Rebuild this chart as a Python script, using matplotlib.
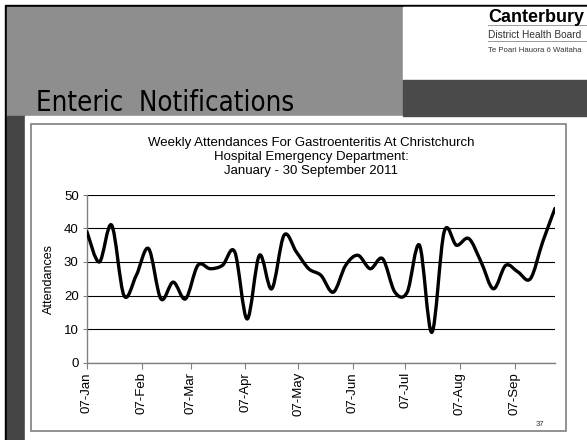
import numpy as np
import pandas as pd
import matplotlib
matplotlib.use('Agg')
import matplotlib.pyplot as plt
import matplotlib.dates as mdates
from matplotlib.path import Path
from matplotlib.patches import PathPatch, Rectangle

# данные: еженедельные обращения (с 7 января 2011, шаг 7 дней)
first_week = '2011-01-07'
attendances = [39, 30, 41, 20, 26, 34, 19, 24, 19, 29,
               28, 29, 33, 13, 32, 22, 38, 33, 28, 26,
               21, 29, 32, 28, 31, 21, 21, 35, 9, 39,
               35, 37, 30, 22, 29, 27, 25, 36, 46]
y_ticks = [0, 10, 20, 30, 40, 50]

slide_title = 'Enteric  Notifications'
chart_title = ('Weekly Attendances For Gastroenteritis At Christchurch\n'
               'Hospital Emergency Department:\n'
               'January - 30 September 2011')
y_label = 'Attendances'
page_no = '37'

weeks = pd.date_range(first_week, periods=len(attendances), freq='7D')


def smooth_path(x, y):
    """Сглаженная линия как в Excel (кривые Безье)."""
    pts = np.column_stack([x, y])
    ext = np.vstack([pts[0], pts, pts[-1]])
    verts = [pts[0]]
    codes = [Path.MOVETO]
    for i in range(len(pts) - 1):
        p0, p1, p2, p3 = ext[i], ext[i + 1], ext[i + 2], ext[i + 3]
        verts += [p1 + (p2 - p0) / 6, p2 - (p3 - p1) / 6, p2]
        codes += [Path.CURVE4] * 3
    return Path(verts, codes)


W, H = 587, 440
fig = plt.figure(figsize=(W / 100, H / 100), dpi=100)

# фон слайда в пикселях
bg = fig.add_axes([0, 0, 1, 1])
bg.set_xlim(0, W)
bg.set_ylim(H, 0)
bg.axis('off')
bg.add_patch(Rectangle((5, 5), W, H, color='black'))
bg.add_patch(Rectangle((7, 7), W, 110, color='#8e8e8e'))
bg.add_patch(Rectangle((7, 116), 18, H, color='#454545'))
bg.add_patch(Rectangle((25, 116), W, H, color='white'))
bg.add_patch(Rectangle((403, 7), W, 73, color='white'))
bg.add_patch(Rectangle((403, 80), W, 36, color='#4a4a4a'))
bg.add_patch(Rectangle((31, 124), 535, 307, facecolor='white',
                       edgecolor='#7f7f7f', lw=1.2))

bg.text(36, 111, slide_title, fontsize=19.8, family='DejaVu Sans',
        fontstretch='condensed', va='baseline', ha='left', color='black')

# логотип
bg.text(488, 22, 'Canterbury', fontsize=13, fontweight='bold',
        family='Liberation Sans', va='baseline', ha='left')
bg.plot([488, 587], [25.5, 25.5], color='#9a9a9a', lw=0.7)
bg.text(488, 38.5, 'District Health Board', fontsize=7.3,
        family='Liberation Sans', va='baseline', ha='left', color='#333333')
bg.plot([488, 587], [41.5, 41.5], color='#9a9a9a', lw=0.7)
bg.text(488, 51.5, 'Te Poari Hauora ō Waitaha', fontsize=5.6,
        family='Liberation Sans', va='baseline', ha='left', color='#333333')

bg.text(311, 157, chart_title, fontsize=9.5, family='Liberation Sans',
        ha='center', va='center', linespacing=1.25)
bg.text(540, 426, page_no, fontsize=5.5, family='Liberation Sans',
        ha='center', va='baseline', color='#333333')

# график
ax = fig.add_axes([87 / W, 1 - 362.5 / H, 468 / W, 167.5 / H])
ax.patch.set_alpha(0)
x = mdates.date2num(weeks)
ax.add_patch(PathPatch(smooth_path(x, attendances), fill=False,
                       color='black', lw=2.4, capstyle='round',
                       joinstyle='round', zorder=3))
ax.set_xlim(x[0], x[-1])
ax.set_ylim(0, 50)
ax.set_yticks(y_ticks)
ax.grid(axis='y', color='black', lw=0.8)
ax.set_axisbelow(True)
ax.xaxis.set_major_locator(mdates.MonthLocator(bymonthday=7))
ax.xaxis.set_major_formatter(mdates.DateFormatter('%d-%b'))
for s in ['top', 'right']:
    ax.spines[s].set_visible(False)
for s in ['left', 'bottom']:
    ax.spines[s].set_color('#808080')
    ax.spines[s].set_linewidth(1)
ax.tick_params(axis='x', rotation=90, length=4, color='#808080',
               labelsize=9.5, pad=3)
ax.tick_params(axis='y', length=3, color='#808080', labelsize=9.5, pad=3)
for lab in ax.get_xticklabels() + ax.get_yticklabels():
    lab.set_family('Liberation Sans')
ax.set_ylabel(y_label, fontsize=9, family='Liberation Sans', labelpad=6)

fig.savefig('out.png', dpi=100)
